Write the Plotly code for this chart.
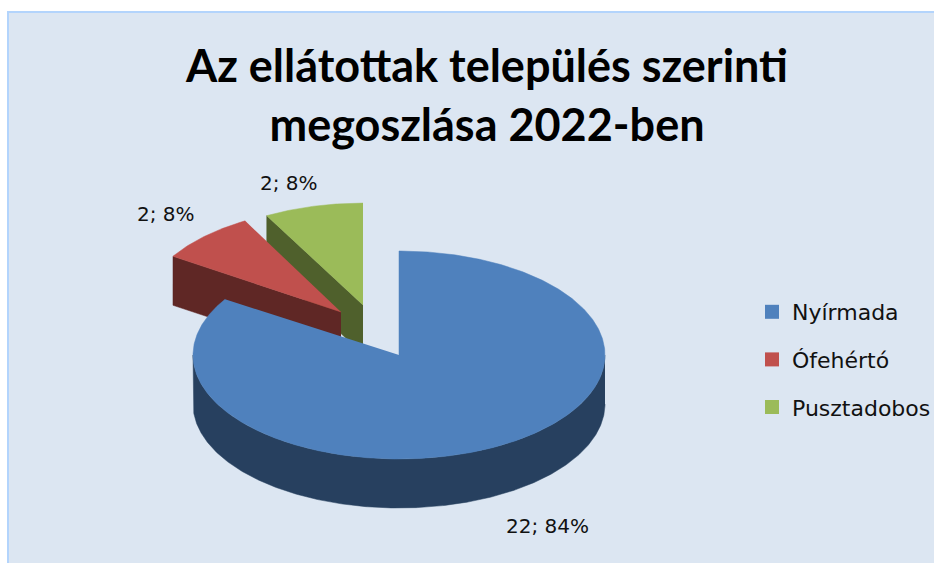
import numpy as np
import plotly.graph_objects as go

categories = ["Nyírmada", "Ófehértó", "Pusztadobos"]
counts = [22, 2, 2]
percents = [84, 8, 8]
title_lines = ["Az ellátottak település szerinti", "megoszlása 2022-ben"]

top_colors = ["#4F81BD", "#C0504D", "#9BBB59"]
side_colors = ["#27405F", "#5F2725", "#4F602C"]
BG = "#DCE6F2"
W, H = 934, 563

CX, CY, RX, RY, DEPTH = 399, 355, 206, 104, 49
explode = [(0, 0), (-58, -43), (-36, -50)]
scale = [(1, 1), (0.966, 1.0), (0.97, 0.98)]
label_pos = [(547, 526), (166, 214), (289, 183)]


def arc(c, s, a0, a1, depth=0):
    t = np.radians(np.linspace(a0, a1, max(2, int(abs(a1 - a0)) * 2)))
    return c[0] + RX * s[0] * np.sin(t), c[1] - RY * s[1] * np.cos(t) + depth


fig = go.Figure()
edges = np.cumsum([0] + percents) * 3.6
centers = [(CX + e[0], CY + e[1]) for e in explode]


def poly(x, y, color, name=None):
    fig.add_trace(go.Scatter(x=np.round(x, 2), y=np.round(y, 2), mode="lines", fill="toself",
                             fillcolor=color, line=dict(color=color, width=0.5),
                             hoverinfo="skip", showlegend=False, name=name or ""))


# drawn back to front: green, red, then blue
for i in [2, 1, 0]:
    c, s = centers[i], scale[i]
    a0, a1 = edges[i], edges[i + 1]
    if i == 0:
        # outer wall, visible on the front half only
        xa, ya = arc(c, s, 90, 270)
        xb, yb = arc(c, s, 270, 90, DEPTH)
        poly(np.r_[xa, xb], np.r_[ya, yb], side_colors[i])
    else:
        # cut face along the slice's leading edge
        ex, ey = arc(c, s, a0, a0)
        ex, ey = ex[0], ey[0]
        poly(np.array([c[0], ex, ex, c[0]]),
             np.array([c[1], ey, ey + DEPTH, c[1] + DEPTH]), side_colors[i])
    xt, yt = arc(c, s, a0, a1)
    poly(np.r_[c[0], xt], np.r_[c[1], yt], top_colors[i], categories[i])

for name, color in zip(categories, top_colors):
    fig.add_trace(go.Scatter(x=[None], y=[None], mode="markers", name=name, legendgroup=name,
                             marker=dict(symbol="square", size=14, color=color)))

for n, p, pos in zip(counts, percents, label_pos):
    fig.add_annotation(x=pos[0], y=pos[1], text=f"{n}; {p}%", showarrow=False,
                       font=dict(size=20, color="#111111", family="DejaVu Sans"))

fig.update_layout(
    width=W, height=H, autosize=False,
    margin=dict(l=0, r=0, t=0, b=0, autoexpand=False),
    paper_bgcolor="white", plot_bgcolor="white",
    title=dict(text="<br>".join(title_lines), x=487 / W, xanchor="center", y=1 - 82 / H, yanchor="middle",
               font=dict(family="Lato", size=45, color="black", weight="bold")),
    xaxis=dict(range=[0, W], visible=False, fixedrange=True),
    yaxis=dict(range=[H, 0], visible=False, fixedrange=True),
    legend=dict(x=752 / W, y=1 - 291 / H, xanchor="left", yanchor="top", bgcolor="rgba(0,0,0,0)",
                font=dict(family="DejaVu Sans", size=22, color="#111111"),
                tracegroupgap=16, itemwidth=30),
    shapes=[dict(type="rect", layer="below", x0=8, y0=12, x1=W + 5, y1=H + 5,
                 fillcolor=BG, line=dict(color="#B3D4FC", width=2))],
)
fig.write_html("out.html", config=dict(displayModeBar=False),
               post_script="document.body.style.margin='0';document.body.style.overflow='hidden';")
